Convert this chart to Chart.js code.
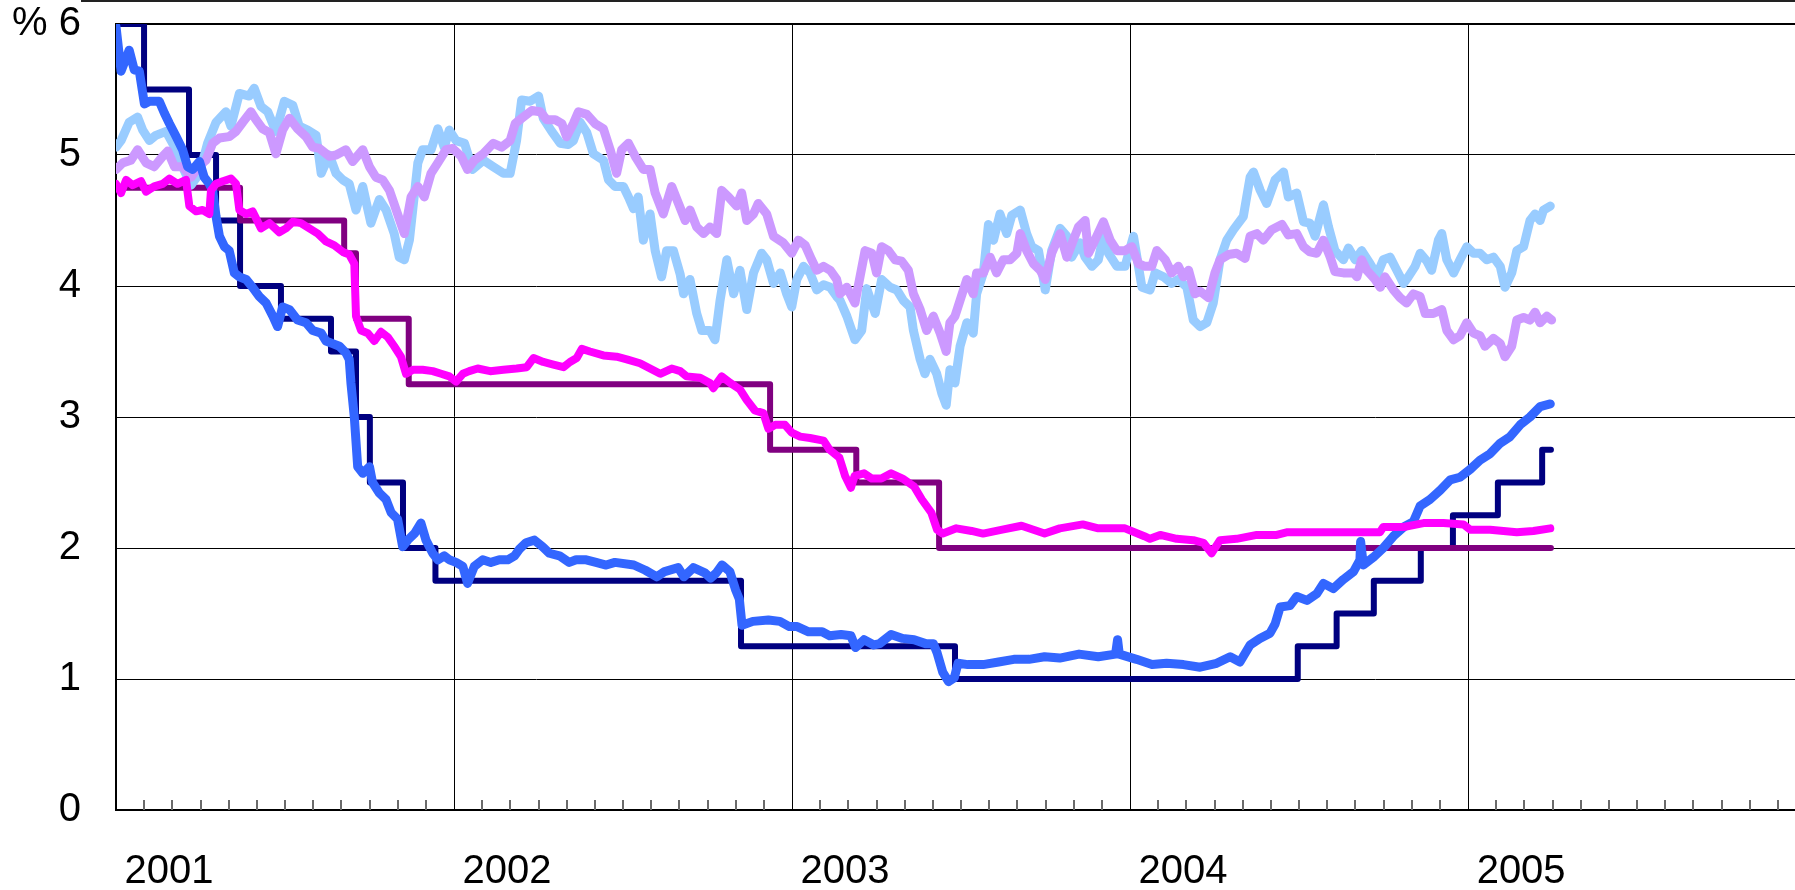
<!DOCTYPE html>
<html>
<head>
<meta charset="utf-8">
<script src="https://cdn.jsdelivr.net/npm/chart.js@4.4.1/dist/chart.umd.min.js"></script>
<style>
  html, body { margin: 0; padding: 0; background: #fff; }
  #wrap { width: 1795px; height: 890px; }
</style>
</head>
<body>
<div id="wrap"><canvas id="rates" width="1795" height="890"></canvas></div>
<script>
// axis labels
const yearLabels = [2001, 2002, 2003, 2004, 2005];
const yTicks = [0, 1, 2, 3, 4, 5, 6];

// policy rates: [date (decimal year), %] at each change
const fedTarget = [
  [2001.000, 6.0], [2001.083, 5.5], [2001.216, 5.0], [2001.296, 4.5], [2001.367, 4.0],
  [2001.488, 3.75], [2001.636, 3.5], [2001.710, 3.0], [2001.751, 2.5], [2001.849, 2.0],
  [2001.945, 1.75], [2002.849, 1.25], [2003.482, 1.0], [2004.496, 1.25], [2004.611, 1.5],
  [2004.721, 1.75], [2004.860, 2.0], [2004.955, 2.25], [2005.088, 2.5], [2005.219, 2.75],
  [2005.245, 2.75]
];
const ecbRefi = [
  [2001.000, 4.75], [2001.367, 4.5], [2001.675, 4.25], [2001.710, 3.75], [2001.866, 3.25],
  [2002.935, 2.75], [2003.190, 2.5], [2003.435, 2.0], [2005.245, 2.0]
];

// market rates
const usShort = [
  [2001.000, 5.98], [2001.015, 5.64], [2001.039, 5.80], [2001.054, 5.65], [2001.069, 5.64],
  [2001.084, 5.39], [2001.099, 5.41], [2001.128, 5.41], [2001.143, 5.32], [2001.158, 5.24],
  [2001.178, 5.14], [2001.197, 5.04], [2001.212, 4.91], [2001.227, 4.89], [2001.247, 4.95],
  [2001.261, 4.83], [2001.276, 4.78], [2001.286, 4.73], [2001.296, 4.53], [2001.306, 4.38],
  [2001.321, 4.30], [2001.335, 4.27], [2001.350, 4.10], [2001.365, 4.07], [2001.385, 4.05],
  [2001.404, 3.99], [2001.424, 3.92], [2001.444, 3.87], [2001.464, 3.77], [2001.478, 3.69],
  [2001.493, 3.84], [2001.513, 3.82], [2001.537, 3.74], [2001.562, 3.72], [2001.582, 3.66],
  [2001.607, 3.64], [2001.621, 3.58], [2001.641, 3.56], [2001.661, 3.54], [2001.680, 3.49],
  [2001.690, 3.44], [2001.695, 3.26], [2001.705, 3.00], [2001.715, 2.62], [2001.730, 2.57],
  [2001.750, 2.62], [2001.759, 2.50], [2001.779, 2.42], [2001.799, 2.37], [2001.814, 2.27],
  [2001.833, 2.22], [2001.848, 2.01], [2001.863, 2.06], [2001.883, 2.11], [2001.902, 2.19],
  [2001.917, 2.06], [2001.937, 1.96], [2001.952, 1.91], [2001.971, 1.94], [2001.986, 1.91],
  [2002.006, 1.89], [2002.026, 1.86], [2002.040, 1.73], [2002.060, 1.86], [2002.085, 1.91],
  [2002.109, 1.89], [2002.134, 1.91], [2002.159, 1.91], [2002.179, 1.94], [2002.193, 1.99],
  [2002.213, 2.04], [2002.238, 2.06], [2002.262, 2.01], [2002.282, 1.96], [2002.312, 1.94],
  [2002.341, 1.89], [2002.361, 1.91], [2002.391, 1.91], [2002.420, 1.89], [2002.450, 1.87],
  [2002.476, 1.89], [2002.532, 1.87], [2002.566, 1.83], [2002.600, 1.78], [2002.623, 1.82],
  [2002.663, 1.85], [2002.680, 1.78], [2002.708, 1.85], [2002.742, 1.81], [2002.759, 1.77],
  [2002.776, 1.81], [2002.793, 1.87], [2002.816, 1.82], [2002.833, 1.68], [2002.844, 1.61],
  [2002.852, 1.41], [2002.884, 1.44], [2002.930, 1.45], [2002.964, 1.44], [2002.992, 1.40],
  [2003.015, 1.40], [2003.049, 1.36], [2003.089, 1.36], [2003.111, 1.33], [2003.145, 1.34],
  [2003.174, 1.33], [2003.188, 1.24], [2003.213, 1.30], [2003.242, 1.26], [2003.259, 1.27],
  [2003.293, 1.34], [2003.327, 1.31], [2003.361, 1.30], [2003.395, 1.27], [2003.418, 1.27],
  [2003.429, 1.20], [2003.446, 1.05], [2003.463, 0.98], [2003.480, 1.01], [2003.491, 1.12],
  [2003.520, 1.11], [2003.565, 1.11], [2003.611, 1.13], [2003.656, 1.15], [2003.701, 1.15],
  [2003.747, 1.17], [2003.792, 1.16], [2003.849, 1.19], [2003.906, 1.17], [2003.957, 1.19],
  [2003.963, 1.30], [2003.968, 1.19], [2004.019, 1.15], [2004.065, 1.11], [2004.108, 1.12],
  [2004.158, 1.11], [2004.207, 1.09], [2004.256, 1.12], [2004.296, 1.17], [2004.325, 1.13],
  [2004.355, 1.26], [2004.384, 1.31], [2004.414, 1.35], [2004.429, 1.42], [2004.444, 1.55],
  [2004.473, 1.56], [2004.493, 1.63], [2004.523, 1.60], [2004.552, 1.65], [2004.572, 1.73],
  [2004.601, 1.69], [2004.631, 1.76], [2004.661, 1.82], [2004.680, 1.91], [2004.682, 2.05],
  [2004.690, 1.87], [2004.720, 1.93], [2004.749, 2.00], [2004.779, 2.09], [2004.809, 2.16],
  [2004.838, 2.20], [2004.858, 2.32], [2004.887, 2.37], [2004.917, 2.44], [2004.947, 2.52],
  [2004.976, 2.54], [2005.006, 2.60], [2005.035, 2.67], [2005.065, 2.72], [2005.095, 2.80],
  [2005.124, 2.85], [2005.154, 2.94], [2005.183, 3.00], [2005.213, 3.08], [2005.243, 3.10]
];

const euroShort = [
  [2001.000, 4.78], [2001.015, 4.71], [2001.030, 4.81], [2001.049, 4.77], [2001.074, 4.80],
  [2001.089, 4.72], [2001.113, 4.76], [2001.138, 4.78], [2001.158, 4.82], [2001.182, 4.78],
  [2001.207, 4.81], [2001.217, 4.61], [2001.237, 4.57], [2001.256, 4.58], [2001.276, 4.55],
  [2001.281, 4.73], [2001.296, 4.78], [2001.316, 4.80], [2001.340, 4.82], [2001.355, 4.78],
  [2001.365, 4.58], [2001.385, 4.55], [2001.404, 4.57], [2001.429, 4.44], [2001.454, 4.48],
  [2001.483, 4.41], [2001.503, 4.44], [2001.523, 4.49], [2001.547, 4.48], [2001.572, 4.44],
  [2001.597, 4.40], [2001.621, 4.34], [2001.646, 4.31], [2001.671, 4.26], [2001.690, 4.24],
  [2001.705, 4.17], [2001.710, 3.77], [2001.725, 3.66], [2001.745, 3.64], [2001.764, 3.58],
  [2001.784, 3.65], [2001.804, 3.61], [2001.823, 3.54], [2001.843, 3.46], [2001.858, 3.33],
  [2001.878, 3.36], [2001.907, 3.36], [2001.937, 3.35], [2001.962, 3.33], [2001.986, 3.31],
  [2002.006, 3.27], [2002.026, 3.33], [2002.045, 3.35], [2002.070, 3.37], [2002.107, 3.35],
  [2002.146, 3.36], [2002.185, 3.37], [2002.215, 3.38], [2002.235, 3.45], [2002.264, 3.42],
  [2002.294, 3.40], [2002.324, 3.38], [2002.343, 3.42], [2002.363, 3.45], [2002.378, 3.52],
  [2002.402, 3.50], [2002.442, 3.47], [2002.481, 3.46], [2002.511, 3.44], [2002.550, 3.41],
  [2002.580, 3.37], [2002.610, 3.33], [2002.644, 3.37], [2002.669, 3.35], [2002.688, 3.31],
  [2002.728, 3.30], [2002.757, 3.26], [2002.767, 3.22], [2002.792, 3.31], [2002.817, 3.26],
  [2002.846, 3.21], [2002.866, 3.13], [2002.890, 3.05], [2002.915, 3.03], [2002.930, 2.91],
  [2002.950, 2.94], [2002.979, 2.94], [2002.999, 2.88], [2003.024, 2.85], [2003.053, 2.84],
  [2003.093, 2.82], [2003.111, 2.75], [2003.140, 2.69], [2003.157, 2.55], [2003.174, 2.46],
  [2003.185, 2.55], [2003.213, 2.57], [2003.236, 2.53], [2003.264, 2.53], [2003.293, 2.57],
  [2003.327, 2.53], [2003.361, 2.47], [2003.384, 2.37], [2003.412, 2.27], [2003.429, 2.14],
  [2003.446, 2.11], [2003.486, 2.15], [2003.531, 2.13], [2003.565, 2.11], [2003.622, 2.14],
  [2003.679, 2.17], [2003.747, 2.11], [2003.792, 2.15], [2003.860, 2.18], [2003.906, 2.15],
  [2003.985, 2.15], [2004.042, 2.09], [2004.059, 2.07], [2004.089, 2.10], [2004.138, 2.07],
  [2004.187, 2.06], [2004.217, 2.04], [2004.241, 1.96], [2004.266, 2.06], [2004.315, 2.07],
  [2004.375, 2.10], [2004.434, 2.10], [2004.463, 2.12], [2004.532, 2.12], [2004.611, 2.12],
  [2004.690, 2.12], [2004.739, 2.12], [2004.749, 2.16], [2004.809, 2.16], [2004.868, 2.19],
  [2004.927, 2.19], [2004.986, 2.18], [2005.006, 2.14], [2005.065, 2.14], [2005.144, 2.12],
  [2005.193, 2.13], [2005.243, 2.15]
];

const usLong = [
  [2001.000, 5.06], [2001.015, 5.11], [2001.039, 5.25], [2001.064, 5.29], [2001.079, 5.19],
  [2001.099, 5.11], [2001.118, 5.15], [2001.148, 5.18], [2001.163, 5.11], [2001.178, 5.04],
  [2001.197, 4.91], [2001.222, 4.77], [2001.247, 4.86], [2001.271, 5.09], [2001.296, 5.25],
  [2001.325, 5.33], [2001.340, 5.22], [2001.365, 5.47], [2001.394, 5.45], [2001.409, 5.51],
  [2001.429, 5.37], [2001.449, 5.33], [2001.473, 5.18], [2001.498, 5.41], [2001.523, 5.38],
  [2001.542, 5.22], [2001.567, 5.19], [2001.592, 5.15], [2001.607, 4.86], [2001.631, 5.00],
  [2001.651, 4.86], [2001.671, 4.81], [2001.690, 4.78], [2001.710, 4.58], [2001.730, 4.76],
  [2001.754, 4.48], [2001.779, 4.66], [2001.799, 4.58], [2001.823, 4.40], [2001.838, 4.22],
  [2001.853, 4.20], [2001.868, 4.35], [2001.893, 4.94], [2001.907, 5.04], [2001.932, 5.04],
  [2001.952, 5.20], [2001.971, 5.06], [2001.986, 5.19], [2002.006, 5.11], [2002.031, 5.09],
  [2002.055, 4.89], [2002.087, 4.96], [2002.116, 4.91], [2002.146, 4.86], [2002.166, 4.86],
  [2002.185, 5.11], [2002.200, 5.42], [2002.225, 5.41], [2002.250, 5.45], [2002.264, 5.28],
  [2002.289, 5.18], [2002.314, 5.09], [2002.338, 5.08], [2002.353, 5.11], [2002.373, 5.25],
  [2002.393, 5.17], [2002.412, 5.01], [2002.442, 4.96], [2002.457, 4.81], [2002.476, 4.76],
  [2002.501, 4.76], [2002.516, 4.68], [2002.531, 4.59], [2002.545, 4.68], [2002.560, 4.35],
  [2002.580, 4.55], [2002.595, 4.27], [2002.614, 4.07], [2002.629, 4.27], [2002.649, 4.27],
  [2002.669, 4.09], [2002.679, 3.94], [2002.698, 4.05], [2002.718, 3.79], [2002.733, 3.66],
  [2002.757, 3.66], [2002.772, 3.59], [2002.787, 3.89], [2002.807, 4.20], [2002.827, 3.94],
  [2002.846, 4.12], [2002.866, 3.82], [2002.886, 4.10], [2002.910, 4.25], [2002.925, 4.20],
  [2002.945, 4.02], [2002.965, 4.10], [2002.984, 3.94], [2002.999, 3.84], [2003.014, 4.05],
  [2003.034, 4.15], [2003.053, 4.10], [2003.073, 3.97], [2003.093, 4.01], [2003.113, 3.99],
  [2003.132, 3.92], [2003.142, 3.89], [2003.162, 3.77], [2003.186, 3.59], [2003.206, 3.66],
  [2003.221, 3.98], [2003.246, 3.79], [2003.265, 4.05], [2003.290, 3.99], [2003.310, 3.97],
  [2003.329, 3.89], [2003.349, 3.84], [2003.359, 3.66], [2003.379, 3.44], [2003.393, 3.33],
  [2003.408, 3.44], [2003.428, 3.33], [2003.443, 3.18], [2003.456, 3.09], [2003.467, 3.36],
  [2003.482, 3.26], [2003.497, 3.54], [2003.517, 3.72], [2003.536, 3.64], [2003.546, 3.94],
  [2003.566, 4.10], [2003.581, 4.47], [2003.596, 4.35], [2003.615, 4.55], [2003.635, 4.40],
  [2003.650, 4.54], [2003.675, 4.58], [2003.694, 4.40], [2003.709, 4.30], [2003.729, 4.27],
  [2003.749, 3.97], [2003.768, 4.27], [2003.793, 4.44], [2003.813, 4.38], [2003.827, 4.22],
  [2003.852, 4.33], [2003.867, 4.22], [2003.887, 4.15], [2003.906, 4.20], [2003.921, 4.38],
  [2003.936, 4.25], [2003.961, 4.15], [2003.985, 4.15], [2004.010, 4.38], [2004.035, 3.99],
  [2004.059, 3.97], [2004.074, 4.10], [2004.099, 4.07], [2004.123, 4.02], [2004.143, 4.05],
  [2004.168, 3.99], [2004.187, 3.74], [2004.207, 3.69], [2004.227, 3.72], [2004.246, 3.87],
  [2004.266, 4.20], [2004.286, 4.35], [2004.306, 4.43], [2004.335, 4.53], [2004.355, 4.83],
  [2004.365, 4.87], [2004.385, 4.73], [2004.404, 4.63], [2004.429, 4.81], [2004.454, 4.87],
  [2004.468, 4.68], [2004.493, 4.71], [2004.513, 4.49], [2004.532, 4.48], [2004.547, 4.38],
  [2004.572, 4.62], [2004.587, 4.45], [2004.606, 4.27], [2004.631, 4.20], [2004.646, 4.29],
  [2004.666, 4.20], [2004.685, 4.27], [2004.710, 4.17], [2004.730, 4.08], [2004.749, 4.20],
  [2004.769, 4.22], [2004.789, 4.12], [2004.809, 4.02], [2004.823, 4.07], [2004.843, 4.15],
  [2004.858, 4.25], [2004.878, 4.19], [2004.892, 4.12], [2004.912, 4.35], [2004.922, 4.40],
  [2004.937, 4.20], [2004.957, 4.10], [2004.976, 4.20], [2004.996, 4.30], [2005.016, 4.25],
  [2005.035, 4.25], [2005.055, 4.20], [2005.075, 4.22], [2005.095, 4.15], [2005.109, 3.99],
  [2005.129, 4.10], [2005.144, 4.27], [2005.164, 4.30], [2005.183, 4.50], [2005.198, 4.55],
  [2005.213, 4.50], [2005.223, 4.58], [2005.243, 4.61]
];

const euroLong = [
  [2001.000, 4.89], [2001.020, 4.94], [2001.044, 4.96], [2001.064, 5.04], [2001.089, 4.94],
  [2001.113, 4.91], [2001.138, 4.99], [2001.153, 5.03], [2001.173, 4.91], [2001.197, 4.91],
  [2001.222, 4.83], [2001.247, 4.92], [2001.266, 4.96], [2001.286, 5.09], [2001.306, 5.13],
  [2001.335, 5.14], [2001.355, 5.18], [2001.375, 5.25], [2001.399, 5.33], [2001.414, 5.27],
  [2001.434, 5.20], [2001.454, 5.17], [2001.473, 5.01], [2001.493, 5.19], [2001.513, 5.28],
  [2001.537, 5.20], [2001.562, 5.14], [2001.582, 5.06], [2001.602, 5.05], [2001.631, 4.99],
  [2001.651, 5.00], [2001.680, 5.04], [2001.700, 4.95], [2001.730, 5.04], [2001.750, 4.91],
  [2001.769, 4.83], [2001.789, 4.81], [2001.809, 4.73], [2001.833, 4.55], [2001.853, 4.40],
  [2001.873, 4.68], [2001.893, 4.76], [2001.912, 4.68], [2001.932, 4.86], [2001.952, 4.94],
  [2001.976, 5.04], [2001.996, 5.05], [2002.021, 4.99], [2002.040, 4.89], [2002.060, 4.96],
  [2002.087, 5.01], [2002.116, 5.09], [2002.141, 5.06], [2002.166, 5.11], [2002.181, 5.24],
  [2002.205, 5.29], [2002.230, 5.34], [2002.255, 5.33], [2002.274, 5.27], [2002.299, 5.27],
  [2002.319, 5.24], [2002.333, 5.14], [2002.353, 5.24], [2002.368, 5.33], [2002.393, 5.31],
  [2002.417, 5.24], [2002.442, 5.20], [2002.462, 5.04], [2002.481, 4.86], [2002.496, 5.04],
  [2002.516, 5.09], [2002.536, 4.99], [2002.560, 4.89], [2002.580, 4.89], [2002.595, 4.71],
  [2002.619, 4.55], [2002.644, 4.76], [2002.664, 4.63], [2002.684, 4.50], [2002.698, 4.58],
  [2002.718, 4.45], [2002.738, 4.40], [2002.757, 4.45], [2002.777, 4.40], [2002.792, 4.73],
  [2002.812, 4.68], [2002.836, 4.61], [2002.851, 4.71], [2002.866, 4.50], [2002.886, 4.55],
  [2002.900, 4.63], [2002.925, 4.55], [2002.945, 4.38], [2002.974, 4.33], [2002.999, 4.25],
  [2003.019, 4.35], [2003.039, 4.31], [2003.058, 4.20], [2003.073, 4.12], [2003.093, 4.15],
  [2003.113, 4.12], [2003.132, 4.05], [2003.142, 3.94], [2003.162, 3.99], [2003.186, 3.87],
  [2003.201, 4.07], [2003.216, 4.27], [2003.236, 4.25], [2003.250, 4.10], [2003.265, 4.30],
  [2003.285, 4.27], [2003.305, 4.20], [2003.324, 4.19], [2003.344, 4.12], [2003.359, 3.94],
  [2003.379, 3.82], [2003.398, 3.66], [2003.418, 3.77], [2003.438, 3.64], [2003.456, 3.50],
  [2003.467, 3.72], [2003.482, 3.77], [2003.497, 3.89], [2003.517, 4.05], [2003.536, 3.94],
  [2003.546, 4.10], [2003.566, 4.10], [2003.586, 4.22], [2003.605, 4.10], [2003.625, 4.20],
  [2003.645, 4.20], [2003.665, 4.25], [2003.675, 4.40], [2003.694, 4.27], [2003.714, 4.17],
  [2003.734, 4.12], [2003.749, 4.05], [2003.768, 4.25], [2003.793, 4.40], [2003.813, 4.22],
  [2003.832, 4.35], [2003.847, 4.45], [2003.867, 4.50], [2003.877, 4.25], [2003.896, 4.35],
  [2003.921, 4.49], [2003.941, 4.35], [2003.961, 4.27], [2003.985, 4.27], [2004.005, 4.30],
  [2004.025, 4.17], [2004.044, 4.15], [2004.064, 4.15], [2004.079, 4.27], [2004.104, 4.20],
  [2004.123, 4.10], [2004.143, 4.15], [2004.158, 4.07], [2004.173, 4.12], [2004.192, 3.94],
  [2004.207, 3.96], [2004.232, 3.91], [2004.251, 4.10], [2004.266, 4.20], [2004.291, 4.24],
  [2004.315, 4.25], [2004.340, 4.21], [2004.355, 4.38], [2004.375, 4.40], [2004.394, 4.35],
  [2004.419, 4.43], [2004.449, 4.47], [2004.468, 4.39], [2004.493, 4.40], [2004.513, 4.30],
  [2004.532, 4.26], [2004.552, 4.25], [2004.572, 4.35], [2004.592, 4.22], [2004.606, 4.11],
  [2004.631, 4.10], [2004.661, 4.10], [2004.671, 4.07], [2004.685, 4.20], [2004.700, 4.12],
  [2004.725, 4.05], [2004.740, 3.99], [2004.754, 4.07], [2004.779, 3.97], [2004.799, 3.91],
  [2004.818, 3.87], [2004.838, 3.94], [2004.858, 3.92], [2004.873, 3.79], [2004.897, 3.79],
  [2004.922, 3.82], [2004.937, 3.66], [2004.957, 3.59], [2004.976, 3.62], [2004.996, 3.72],
  [2005.016, 3.64], [2005.035, 3.62], [2005.050, 3.54], [2005.075, 3.60], [2005.095, 3.56],
  [2005.109, 3.46], [2005.129, 3.54], [2005.144, 3.74], [2005.164, 3.76], [2005.183, 3.74],
  [2005.198, 3.80], [2005.213, 3.72], [2005.233, 3.77], [2005.247, 3.74]
];

const fontFamily = '"Liberation Sans", Arial, Helvetica, sans-serif';

function toPoints(pairs) {
  return pairs.map(p => ({ x: p[0], y: p[1] }));
}

function lineSet(pairs, color, width, order, stepped) {
  return {
    data: toPoints(pairs),
    borderColor: color,
    borderWidth: width,
    pointRadius: 0,
    tension: 0,
    stepped: stepped ? 'before' : false,
    borderCapStyle: 'round',
    borderJoinStyle: 'round',
    fill: false,
    order: order
  };
}

// monthly tick marks inside the plot + thin frame line at the very top
const extras = {
  id: 'extras',
  afterDraw(chart) {
    const ctx = chart.ctx;
    const x = chart.scales.x;
    const area = chart.chartArea;
    ctx.save();
    ctx.strokeStyle = '#6a6a6a';
    ctx.lineWidth = 2;
    for (let yr = yearLabels[0]; yr <= yearLabels[yearLabels.length - 1]; yr++) {
      for (let m = 1; m < 12; m++) {
        const px = Math.round(x.getPixelForValue(yr + m / 12));
        if (px >= area.right) break;
        ctx.beginPath();
        ctx.moveTo(px, area.bottom);
        ctx.lineTo(px, area.bottom - 10);
        ctx.stroke();
      }
    }
    ctx.strokeStyle = '#222';
    ctx.lineWidth = 2;
    ctx.beginPath();
    ctx.moveTo(area.left - 35, 1);
    ctx.lineTo(chart.width, 1);
    ctx.stroke();
    ctx.restore();
  }
};

const ctx = document.getElementById('rates').getContext('2d');
new Chart(ctx, {
  type: 'line',
  data: {
    datasets: [
      lineSet(euroShort, '#FF00FF', 8, 1, false),
      lineSet(usShort, '#3366FF', 9, 2, false),
      lineSet(euroLong, '#CC99FF', 9, 3, false),
      lineSet(usLong, '#99CCFF', 9, 4, false),
      lineSet(ecbRefi, '#800080', 6, 5, true),
      lineSet(fedTarget, '#000080', 6, 6, true)
    ]
  },
  options: {
    responsive: false,
    animation: false,
    devicePixelRatio: 1,
    layout: { padding: { top: 24, right: 0, bottom: 0, left: 0 } },
    plugins: {
      legend: { display: false },
      tooltip: { enabled: false }
    },
    scales: {
      x: {
        type: 'linear',
        min: 2001,
        max: 2005.967,
        afterBuildTicks(scale) {
          scale.ticks = yearLabels.map(v => ({ value: v }));
        },
        afterFit(scale) {
          scale.height = 80;
          scale.paddingLeft = 0;
          scale.paddingRight = 0;
        },
        grid: { color: '#000', lineWidth: 1, drawTicks: false },
        border: { display: true, color: '#000', width: 2 },
        ticks: {
          callback: v => String(v),
          labelOffset: 53,
          padding: 38,
          maxRotation: 0,
          autoSkip: false,
          color: '#000',
          font: { family: fontFamily, size: 40 }
        }
      },
      y: {
        min: yTicks[0],
        max: yTicks[yTicks.length - 1],
        afterBuildTicks(scale) {
          scale.ticks = yTicks.map(v => ({ value: v }));
        },
        afterFit(scale) {
          scale.width = 116;
          scale.paddingTop = 0;
          scale.paddingBottom = 0;
        },
        grid: {
          color: '#000',
          lineWidth: c => (c.tick && c.tick.value === 6 ? 2 : 1),
          drawTicks: false
        },
        border: { display: true, color: '#000', width: 2 },
        ticks: {
          callback: v => (v === 6 ? '% 6' : String(v)),
          padding: 35,
          color: '#000',
          font: { family: fontFamily, size: 40 }
        }
      }
    }
  },
  plugins: [extras]
});
</script>
</body>
</html>
